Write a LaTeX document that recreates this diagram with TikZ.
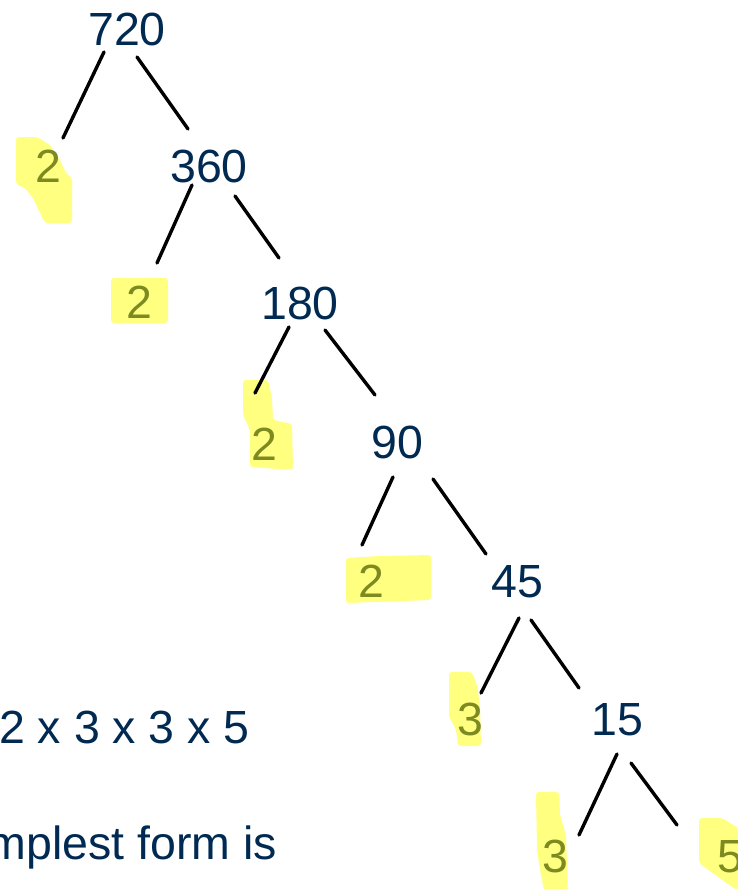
\documentclass[tikz,border=0pt]{standalone}
\usepackage{fontspec}
\setmainfont{Liberation Sans}
\definecolor{inknavy}{HTML}{002A52}
\definecolor{hlyellow}{HTML}{FFFF80}
\definecolor{hlolive}{HTML}{7D8A22}
\tikzset{
  factor tree/.style={
    x=1pt,
    y=-1pt,
    line cap=round,
    line join=round
  },
  numnode/.style={
    anchor=base,
    inner sep=0pt,
    text=inknavy,
    font=\fontsize{46.5}{56}\selectfont
  },
  primenode/.style={
    numnode,
    text=hlolive
  },
  noteline/.style={
    numnode,
    anchor=base east
  },
  branch/.style={
    draw=black,
    line width=3.4pt
  },
  marker/.style={
    fill=hlyellow,
    draw=none,
    rounded corners=3pt
  }
}
\begin{document}
\begin{tikzpicture}[factor tree]
\useasboundingbox (0,0) rectangle (738,889);
\clip (0,0) rectangle (738,889);
% highlighter strokes
\fill[marker] (16,137) -- (37,137) -- (50,145) -- (60,160) -- (66,173) -- (72,178) -- (72,223) -- (45,223) -- (40,213) -- (33,198) -- (25,188) -- (16,184) -- cycle;
\fill[marker] (111,278) rectangle (168,323);
\fill[marker] (243,380) -- (268,380) -- (272,398) -- (273,420) -- (292,424) -- (293,470) -- (250,467) -- (250,430) -- (243,415) -- cycle;
\fill[marker] (346,558) -- (380,556) -- (431,555) -- (431,600) -- (346,603) -- cycle;
\fill[marker] (449,672) -- (472,672) -- (477,685) -- (480,705) -- (481,746) -- (458,746) -- (456,730) -- (452,722) -- (449,717) -- cycle;
\fill[marker] (536,792) -- (559,792) -- (560,815) -- (566,835) -- (568,895) -- (545,895) -- (540,870) -- (537,850) -- cycle;
\fill[marker] (699,818) -- (722,818) -- (740,829) -- (740,892) -- (725,882) -- (699,863) -- cycle;

\node[numnode] (n720) at (127,45) {720};
\node[primenode] (p2a) at (48.5,182) {2};
\node[numnode] (n360) at (209,182) {360};
\node[primenode] (p2b) at (139.5,318) {2};
\node[numnode] (n180) at (300,319) {180};
\node[primenode] (p2c) at (264.5,460) {2};
\node[numnode] (n90) at (397.5,458) {90};
\node[primenode] (p2d) at (371,597) {2};
\node[numnode] (n45) at (517.5,597) {45};
\node[primenode] (p3a) at (470,735) {3};
\node[numnode] (n15) at (617.5,735) {15};
\node[primenode] (p3b) at (555,872) {3};
\node[primenode] (p5) at (730,872) {5};
\node[noteline] (product) at (250,743) {2 x 3 x 3 x 5};
\node[noteline] (simplest) at (277,859) {simplest form is};

\draw[branch] ([shift={(-23,7)}]n720.base) -- ([shift={(14.5,-44)}]p2a.base);
\draw[branch] ([shift={(10,12)}]n720.base) -- ([shift={(-21,-53)}]n360.base);
\draw[branch] ([shift={(-17,3)}]n360.base) -- ([shift={(17.5,-55)}]p2b.base);
\draw[branch] ([shift={(26,14)}]n360.base) -- ([shift={(-21,-61)}]n180.base);
\draw[branch] ([shift={(-11,8)}]n180.base) -- ([shift={(-9.5,-67)}]p2c.base);
\draw[branch] ([shift={(25,11)}]n180.base) -- ([shift={(-22.5,-63)}]n90.base);
\draw[branch] ([shift={(-4.5,19)}]n90.base) -- ([shift={(-9,-52)}]p2d.base);
\draw[branch] ([shift={(35.5,21)}]n90.base) -- ([shift={(-31.5,-43)}]n45.base);
\draw[branch] ([shift={(1.5,21)}]n45.base) -- ([shift={(11,-42)}]p3a.base);
\draw[branch] ([shift={(13.5,23)}]n45.base) -- ([shift={(-38.5,-47)}]n15.base);
\draw[branch] ([shift={(-0.5,19)}]n15.base) -- ([shift={(24,-37)}]p3b.base);
\draw[branch] ([shift={(13.5,28)}]n15.base) -- ([shift={(-53,-47)}]p5.base);
\end{tikzpicture}
\end{document}
